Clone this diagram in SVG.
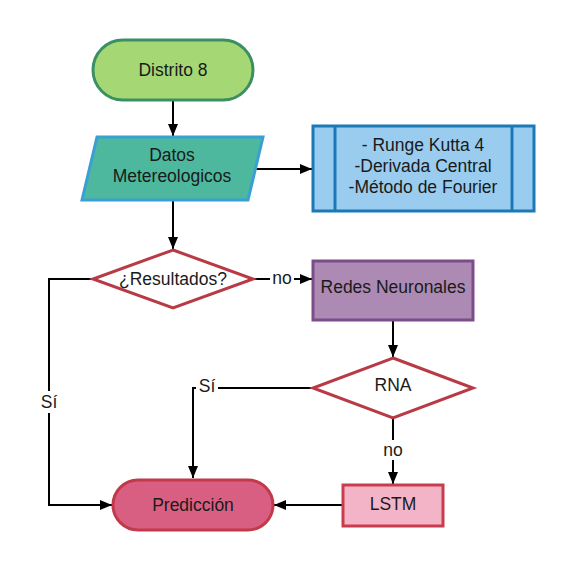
<svg xmlns="http://www.w3.org/2000/svg" width="573" height="571" viewBox="0 0 573 571">
<defs>
<marker id="arr" markerWidth="12" markerHeight="10" refX="12" refY="5" orient="auto" markerUnits="userSpaceOnUse">
<path d="M0,0 L12,5 L0,10 Z" fill="#000"/>
</marker>
<style>
text{font-family:"Liberation Sans",Arial,sans-serif;font-size:17.5px;fill:#1a1a1a;text-anchor:middle;dominant-baseline:central}
.c{fill:none;stroke:#000;stroke-width:2}
.lbl{fill:#fff;stroke:none}
</style>
</defs>
<rect width="573" height="571" fill="#fff"/>
<g id="connectors">
<path class="c" d="M173,100 V136" marker-end="url(#arr)"/>
<path class="c" d="M256,169 H312" marker-end="url(#arr)"/>
<path class="c" d="M173,200 V249" marker-end="url(#arr)"/>
<path class="c" d="M253,279 H312" marker-end="url(#arr)"/>
<path class="c" d="M393,320 V357" marker-end="url(#arr)"/>
<path class="c" d="M313,388 H193 V478" marker-end="url(#arr)"/>
<path class="c" d="M393,418 V484" marker-end="url(#arr)"/>
<path class="c" d="M343,505 H274" marker-end="url(#arr)"/>
<path class="c" d="M93,279 H49 V505 H112" marker-end="url(#arr)"/>
<rect class="lbl" x="270" y="269" width="24" height="20"/>
<text x="282" y="278">no</text>
<rect class="lbl" x="196" y="377" width="22" height="20"/>
<text x="207" y="386">Sí</text>
<rect class="lbl" x="379" y="440" width="28" height="20"/>
<text x="393" y="450">no</text>
<rect class="lbl" x="38" y="391" width="22" height="22"/>
<text x="49" y="402">Sí</text>
</g>
<g id="distrito">
<rect x="93" y="40" width="160" height="60" rx="30" fill="#a5d874" stroke="#3a8f63" stroke-width="3"/>
<text x="173" y="70">Distrito 8</text>
</g>
<g id="datos">
<path d="M97,137 H263 L248,200 H82 Z" fill="#4db89e" stroke="#3aa0d4" stroke-width="3"/>
<text x="172" y="155">Datos</text>
<text x="172" y="176">Metereologicos</text>
</g>
<g id="metodos">
<rect x="313" y="126" width="221" height="85" fill="#99ccee" stroke="#1a7ab8" stroke-width="3"/>
<line x1="335" y1="126" x2="335" y2="211" stroke="#1a7ab8" stroke-width="3"/>
<line x1="512" y1="126" x2="512" y2="211" stroke="#1a7ab8" stroke-width="3"/>
<text x="423" y="145">- Runge Kutta 4</text>
<text x="423" y="166">-Derivada Central</text>
<text x="423" y="187">-Método de Fourier</text>
</g>
<g id="resultados">
<path d="M173,250 L253,279 L173,308 L93,279 Z" fill="#fff" stroke="#b83a44" stroke-width="3"/>
<text x="173" y="279">¿Resultados?</text>
</g>
<g id="redes">
<rect x="313" y="261" width="160" height="59" fill="#ad8ab3" stroke="#7d4d8a" stroke-width="3"/>
<text x="393" y="287">Redes Neuronales</text>
</g>
<g id="rna">
<path d="M393,358 L473,388 L393,418 L313,388 Z" fill="#fff" stroke="#b83a44" stroke-width="3"/>
<text x="393" y="385">RNA</text>
</g>
<g id="lstm">
<rect x="343" y="485" width="100" height="41" fill="#f4b4c8" stroke="#c83c4c" stroke-width="3"/>
<text x="393" y="504">LSTM</text>
</g>
<g id="prediccion">
<rect x="113" y="480" width="160" height="50" rx="25" fill="#d95f82" stroke="#c23a4a" stroke-width="3"/>
<text x="193" y="505">Predicción</text>
</g>
</svg>
